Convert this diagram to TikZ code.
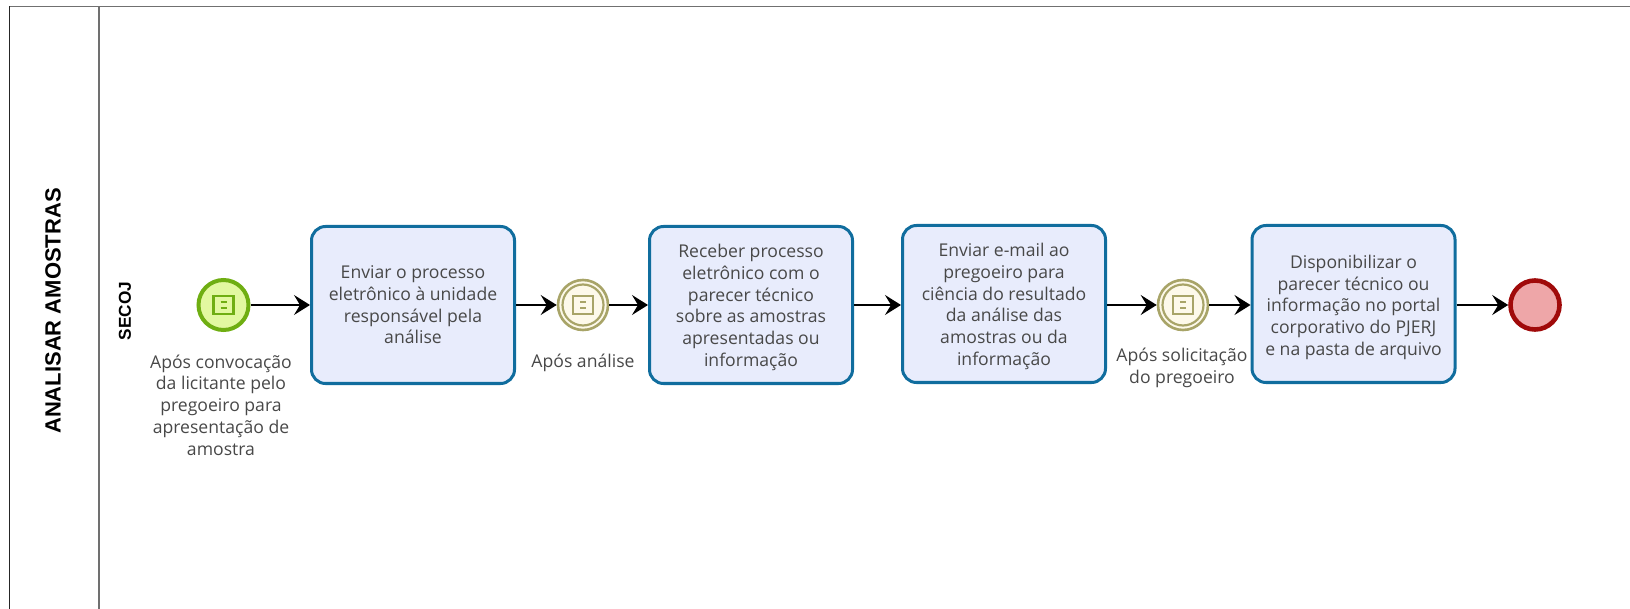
\documentclass[tikz,border=0pt]{standalone}
\usepackage{fontspec}
\setmainfont{Open Sans}
\newfontfamily\lanefont{Liberation Sans}
\usetikzlibrary{arrows.meta}
\definecolor{taskline}{HTML}{106D9E}
\definecolor{taskfill}{HTML}{E8ECFC}
\definecolor{txt}{HTML}{484848}
\definecolor{startline}{HTML}{6FAE12}
\definecolor{startfill}{HTML}{E2F8A0}
\definecolor{interline}{HTML}{A8A468}
\definecolor{interfill}{HTML}{FDF9EA}
\definecolor{endline}{HTML}{A00A0A}
\definecolor{endfill}{HTML}{EEA6A8}
\definecolor{laneline}{HTML}{707070}
\tikzset{
  task/.style={draw=taskline,fill=taskfill,line width=3pt,rounded corners=14pt,
    minimum width=203pt,minimum height=157pt,inner sep=0pt,align=center,
    font=\fontsize{17.6}{21.7}\selectfont,text=txt},
  evstart/.style={circle,draw=startline,fill=startfill,line width=4pt,minimum size=50pt,inner sep=0pt},
  evinter/.style={circle,draw=interline,fill=interfill,line width=2.6pt,minimum size=50pt,inner sep=0pt},
  evring/.style={circle,draw=interline,line width=2.2pt,minimum size=41pt,inner sep=0pt},
  evend/.style={circle,draw=endline,fill=endfill,line width=4.6pt,minimum size=49pt,inner sep=0pt},
  lbl/.style={align=center,font=\fontsize{17.6}{21.7}\selectfont,text=txt,inner sep=0pt},
  flow/.style={draw=black,line width=1.5pt,-{Stealth[length=16pt,width=20pt,inset=6pt]}},
  lanetxt/.style={rotate=90,text=black,inner sep=0pt},
  icon/.style={draw=#1,line width=2.6pt,minimum width=20pt,minimum height=18pt,inner sep=0pt},
  iconline/.style={draw=#1,line width=1.5pt},
}
\newcommand{\evicon}[2]{%
  \node[icon=#2] at (#1.center) {};
  \draw[iconline=#2] ([xshift=-3pt,yshift=3pt]#1.center) -- ([xshift=3pt,yshift=3pt]#1.center);
  \draw[iconline=#2] ([xshift=-3pt,yshift=-3pt]#1.center) -- ([xshift=3pt,yshift=-3pt]#1.center);
}
\begin{document}
\begin{tikzpicture}[x=1pt,y=-1pt]
\useasboundingbox (0,0) rectangle (1630,609);
% pool and lane frame
\draw[laneline,line width=1.5pt] (9.5,6.5) -- (1630,6.5);
\draw[black!85,line width=1.8pt] (9.5,6.5) -- (9.5,609);
\draw[laneline,line width=1.8pt] (99,6.5) -- (99,609);
\node[lanetxt,font=\lanefont\bfseries\fontsize{22}{26}\selectfont] (pool) at (53,311) {ANALISAR AMOSTRAS};
\node[lanetxt,font=\lanefont\bfseries\fontsize{17.2}{20}\selectfont] (lane) at (125,311) {SECOJ};
% events and tasks
\node[evstart] (e1) at (223.5,305) {};
\node[task] (t1) at (413,305) {Enviar o processo\\eletrônico à unidade\\responsável pela\\análise};
\node[evinter] (e2) at (583,305) {};
\node[evring] (r2) at (583,305) {};
\node[task] (t2) at (751,305) {\rule{0pt}{18pt}Receber processo\\eletrônico com o\\parecer técnico\\sobre as amostras\\apresentadas ou\\informação};
\node[task] (t3) at (1004,304) {\rule{0pt}{18pt}Enviar e-mail ao\\pregoeiro para\\ciência do resultado\\da análise das\\amostras ou da\\informação};
\node[evinter] (e3) at (1183,305) {};
\node[evring] (r3) at (1183,305) {};
\node[task] (t4) at (1353.5,304) {\rule{0pt}{20pt}Disponibilizar o\\parecer técnico ou\\informação no portal\\corporativo do PJERJ\\e na pasta de arquivo};
\node[evend] (e4) at (1535,305) {};
\evicon{e1}{startline}
\evicon{e2}{interline}
\evicon{e3}{interline}
% labels
\node[lbl] (l1) at (221,405) {Após convocação\\da licitante pelo\\pregoeiro para\\apresentação de\\amostra};
\node[lbl] (l2) at (583,363) {Após análise};
\node[lbl] (l3) at (1182,368) {Após solicitação\\do pregoeiro};
% flows
\draw[flow] (e1) -- (e1 -| t1.west);
\draw[flow] (t1.east |- e2) -- (e2);
\draw[flow] (e2) -- (e2 -| t2.west);
\draw[flow] (t2.east |- e2) -- (t3.west |- e2);
\draw[flow] (t3.east |- e3) -- (e3);
\draw[flow] (e3) -- (e3 -| t4.west);
\draw[flow] (t4.east |- e4) -- (e4);
\end{tikzpicture}
\end{document}
